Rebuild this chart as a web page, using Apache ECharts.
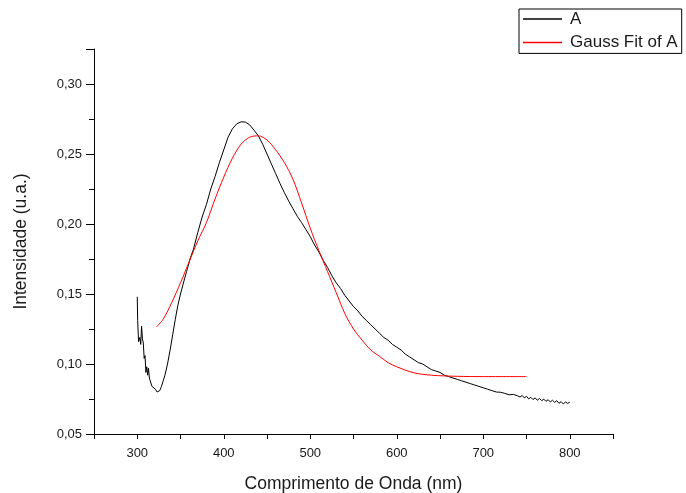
<!DOCTYPE html>
<html>
<head>
<meta charset="utf-8">
<script src="https://cdn.jsdelivr.net/npm/echarts@6/dist/echarts.min.js"></script>
<style>
  html, body { margin: 0; padding: 0; background: #fff; }
  #chart { width: 686px; height: 493px; }
</style>
</head>
<body>
<div id="chart"></div>
<script>
// Measured emission spectrum (wavelength in nm, intensity in a.u.)
const spectrumX = [
  300, 300.5, 301.5, 303, 304, 305, 306, 307, 308, 309, 310, 311, 312, 313, 314, 315, 317, 319, 321, 323, 324.5,
  326, 328, 330, 332, 335, 338, 341, 344, 347, 350, 353, 357, 361, 365, 370, 375, 380, 385, 390, 395,
  400, 405, 410, 415, 420, 425, 430, 435, 440, 445, 450, 455, 460, 465, 470, 475, 480, 485, 490, 495,
  500, 505, 510, 515, 520, 525, 530, 535, 540, 545, 550, 555, 560, 565, 570, 575, 580, 585, 590, 595,
  600, 605, 610, 615, 620, 625, 630, 635, 640, 645, 650, 655, 660, 665, 670, 675, 680, 685, 690, 695,
  700, 705, 710, 715, 720, 725, 730, 735, 740, 742.5, 745, 747.5, 750, 752.5, 755, 757.5, 760, 762.5,
  765, 767.5, 770, 772.5, 775, 777.5, 780, 782.5, 785, 787.5, 790, 792.5, 795, 797.5, 800
];
const spectrumY = [
  0.148, 0.131, 0.116, 0.119, 0.114, 0.127, 0.118, 0.115, 0.104, 0.106, 0.094, 0.098, 0.092, 0.097, 0.090, 0.088, 0.084, 0.083, 0.082, 0.080, 0.079,
  0.081, 0.084, 0.088, 0.092, 0.100, 0.110, 0.121, 0.132, 0.142, 0.150, 0.157, 0.166, 0.175, 0.182, 0.194, 0.205, 0.214, 0.225, 0.234, 0.244,
  0.253, 0.262, 0.268, 0.2715, 0.273, 0.2728, 0.2708, 0.267, 0.263, 0.257, 0.250, 0.243, 0.236, 0.229, 0.2225, 0.2165, 0.211, 0.2055, 0.201, 0.196,
  0.191, 0.185, 0.180, 0.174, 0.169, 0.163, 0.158, 0.154, 0.149, 0.145, 0.141, 0.138, 0.134, 0.131, 0.128, 0.125, 0.122, 0.119, 0.117, 0.114,
  0.112, 0.110, 0.107, 0.105, 0.103, 0.101, 0.100, 0.098, 0.096, 0.095, 0.094, 0.092, 0.091, 0.090, 0.089, 0.088, 0.087, 0.086, 0.085, 0.084,
  0.083, 0.082, 0.081, 0.080, 0.0798, 0.079, 0.078, 0.0783, 0.0772, 0.0764, 0.0775, 0.0758, 0.0769, 0.0751, 0.0762, 0.0746, 0.0758, 0.0741,
  0.0754, 0.0738, 0.0749, 0.0733, 0.0745, 0.0729, 0.0741, 0.0726, 0.0738, 0.0719, 0.0731, 0.0715, 0.0728, 0.0719, 0.0727
];

// Gaussian fit of the spectrum
const fitX = [
  322, 330, 340, 350, 360, 370, 380, 390, 400, 410, 420, 430, 440, 450, 460, 470, 480, 490, 500,
  510, 520, 530, 540, 550, 560, 570, 580, 590, 600, 620, 640, 670, 700, 750
];
const fitY = [
  0.1264, 0.132, 0.144, 0.158, 0.173, 0.188, 0.201, 0.218, 0.2335, 0.247, 0.257, 0.262, 0.263, 0.260, 0.253, 0.244, 0.232, 0.215, 0.197,
  0.181, 0.166, 0.151, 0.136, 0.125, 0.117, 0.110, 0.1055, 0.101, 0.098, 0.0937, 0.092, 0.0912, 0.0910, 0.0910
];

const seriesNames = ['A', 'Gauss Fit of A'];
const xTitle = 'Comprimento de Onda (nm)';
const yTitle = 'Intensidade (u.a.)';

const pair = (xs, ys) => xs.map((x, i) => [x, ys[i]]);
const font = 'Arial, "Liberation Sans", sans-serif';
const ink = '#1a1a1a';

const chart = echarts.init(document.getElementById('chart'), null, { renderer: 'canvas' });
chart.setOption({
  animation: false,
  backgroundColor: '#ffffff',
  grid: { left: 94, top: 49, width: 519, height: 385, containLabel: false, outerBoundsMode: 'none' },
  legend: {
    orient: 'vertical',
    left: 519,
    top: 9,
    padding: [1, 4, 2, 4],
    itemGap: 5.4,
    itemWidth: 39,
    itemHeight: 1.5,
    icon: 'rect',
    borderColor: '#000',
    borderWidth: 1,
    borderRadius: 0,
    textStyle: { fontFamily: font, fontSize: 17, color: ink, lineHeight: 18, padding: [0, 0, 0, 3] },
    data: seriesNames
  },
  xAxis: {
    type: 'value',
    min: 250,
    max: 850,
    interval: 50,
    name: xTitle,
    nameLocation: 'middle',
    nameGap: 41,
    nameTextStyle: { fontFamily: font, fontSize: 17.5, color: ink },
    axisLine: { show: true, onZero: false, lineStyle: { color: '#000', width: 1 } },
    axisTick: { show: true, inside: false, length: 5, lineStyle: { color: '#000' } },
    axisLabel: {
      margin: 13,
      fontFamily: font, fontSize: 13, color: ink,
      formatter: v => (v % 100 === 0 && v > 250 && v < 850) ? String(v) : ''
    },
    splitLine: { show: false }
  },
  yAxis: {
    type: 'value',
    min: 0.05,
    max: 0.325,
    interval: 0.05,
    name: yTitle,
    nameLocation: 'middle',
    nameGap: 64,
    nameRotate: 90,
    nameTextStyle: { fontFamily: font, fontSize: 17.5, color: ink },
    axisLine: { show: true, onZero: false, lineStyle: { color: '#000', width: 1 } },
    axisTick: { show: true, inside: false, length: 8, lineStyle: { color: '#000' } },
    minorTick: { show: true, splitNumber: 2, length: 5, lineStyle: { color: '#000' } },
    axisLabel: {
      margin: 12,
      fontFamily: font, fontSize: 13, color: ink,
      formatter: v => {
        const k = Math.round(v / 0.05);
        return Math.abs(v - k * 0.05) < 1e-6 && v < 0.32 ? v.toFixed(2).replace('.', ',') : '';
      }
    },
    splitLine: { show: false },
    minorSplitLine: { show: false }
  },
  series: [
    {
      name: seriesNames[0],
      type: 'line',
      data: pair(spectrumX, spectrumY),
      showSymbol: false,
      symbol: 'none',
      lineStyle: { color: '#000', width: 1 },
      itemStyle: { color: '#000' }
    },
    {
      name: seriesNames[1],
      type: 'line',
      data: pair(fitX, fitY),
      smooth: 0.3,
      showSymbol: false,
      symbol: 'none',
      lineStyle: { color: '#ff0000', width: 1 },
      itemStyle: { color: '#ff0000' }
    }
  ]
});
</script>
</body>
</html>
